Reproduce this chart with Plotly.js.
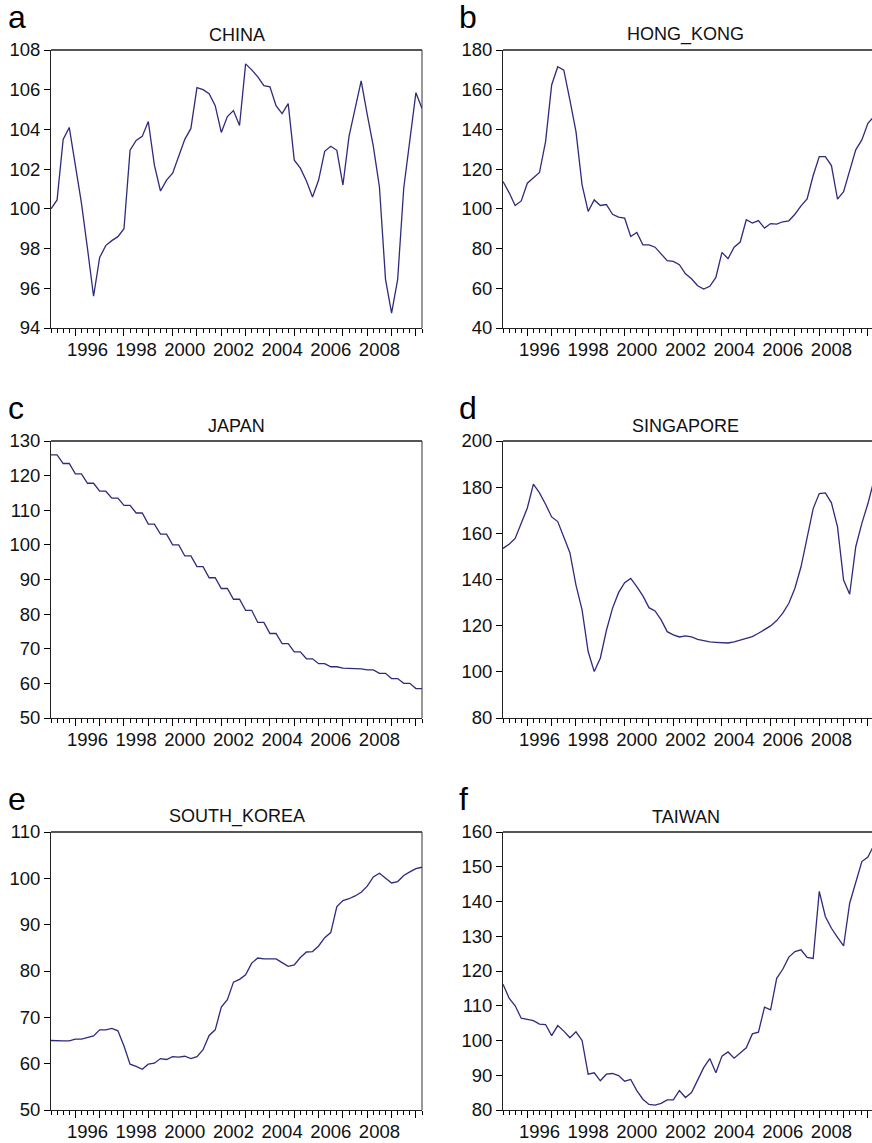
<!DOCTYPE html>
<html>
<head>
<meta charset="utf-8">
<script src="https://cdn.plot.ly/plotly-3.0.1.min.js"></script>
<style>
html,body{margin:0;padding:0;overflow:hidden;background:#fff;}
#chart{width:880px;height:1143px;}
</style>
</head>
<body>
<div id="chart"></div>
<script>
// Quarterly observations, 1995Q1 .. 2010Q2
const startYear = 1995;
const nObs = 62;

const panelLetters = ['a','b','c','d','e','f'];
const panelTitles = ['CHINA','HONG_KONG','JAPAN','SINGAPORE','SOUTH_KOREA','TAIWAN'];

const china = [100.0,100.45,103.5,104.1,102.2,100.3,98.0,95.6,97.55,98.15,98.4,98.6,99.0,102.95,103.45,103.65,
  104.4,102.2,100.9,101.45,101.8,102.6,103.5,104.05,106.1,106.0,105.8,105.2,103.85,104.65,104.95,104.2,
  107.3,107.0,106.65,106.2,106.15,105.2,104.8,105.3,102.45,102.05,101.4,100.6,101.45,102.9,103.15,102.95,
  101.2,103.65,105.0,106.45,104.75,103.15,101.1,96.45,94.75,96.45,101.05,103.5,105.85,105.05];

const hongKong = [113.8,108.2,101.7,104.0,112.9,115.8,118.3,133.9,162.4,171.6,169.9,154.8,138.9,112.1,98.7,104.5,
  101.7,102.2,97.3,95.8,95.3,86.1,88.1,81.9,81.9,80.7,77.4,73.9,73.5,71.9,67.3,64.8,
  61.3,59.6,61.0,65.5,78.1,74.9,80.7,83.3,94.5,92.8,94.1,90.3,92.6,92.3,93.5,94.0,
  97.3,101.5,105.0,116.8,126.3,126.3,121.8,104.9,108.7,119.6,129.7,134.7,143.1,146.5];

const japan = [126.0,126.0,123.5,123.5,120.5,120.5,117.8,117.8,115.5,115.5,113.5,113.5,111.4,111.4,109.2,109.2,
  106.0,106.0,103.1,103.1,100.0,100.0,96.8,96.8,93.7,93.7,90.5,90.5,87.4,87.4,84.3,84.3,
  81.1,81.1,77.6,77.6,74.4,74.4,71.5,71.5,69.1,69.1,67.1,67.1,65.7,65.7,64.8,64.8,
  64.4,64.4,64.2,64.2,63.9,63.9,62.9,62.9,61.4,61.4,60.0,60.0,58.5,58.5];

const singapore = [153.5,155.3,157.8,164.6,171.0,181.3,177.5,172.6,167.1,165.1,158.5,151.6,137.6,126.8,108.8,100.1,
  105.9,117.9,127.5,134.3,138.6,140.5,136.9,132.9,127.8,126.4,122.5,117.4,116.0,115.1,115.6,115.1,
  114.1,113.4,113.0,112.8,112.5,112.5,113.0,113.8,114.6,115.3,116.7,118.2,119.9,122.2,125.4,129.7,
  136.2,145.5,158.8,170.7,177.2,177.5,173.2,162.8,139.8,133.6,154.2,164.3,172.9,183.0];

const southKorea = [65.0,64.9,64.9,64.9,65.3,65.3,65.7,66.0,67.3,67.3,67.6,67.1,63.8,59.9,59.4,58.8,
  59.9,60.1,61.1,60.9,61.5,61.4,61.6,61.1,61.5,63.0,66.1,67.3,72.2,73.8,77.6,78.2,
  79.2,81.7,82.8,82.6,82.6,82.6,81.8,81.0,81.3,82.9,84.1,84.2,85.4,87.2,88.3,93.9,
  95.2,95.6,96.2,97.0,98.3,100.3,101.1,100.1,99.0,99.3,100.6,101.4,102.1,102.4];

const taiwan = [116.2,112.2,110.0,106.4,106.1,105.7,104.7,104.6,101.4,104.3,102.7,100.8,102.5,100.0,90.3,90.7,
  88.4,90.3,90.5,89.9,88.3,88.8,85.6,83.1,81.6,81.4,81.9,82.9,82.9,85.6,83.6,85.0,
  88.6,92.2,94.8,90.7,95.5,96.7,94.9,96.3,97.9,101.9,102.4,109.6,108.8,117.9,120.5,124.0,
  125.6,126.1,123.9,123.6,142.9,135.7,132.3,129.7,127.2,139.5,145.8,151.5,152.8,156.3];

const yRanges = [[94,108],[40,180],[50,130],[80,200],[50,110],[80,160]];
const yDticks = [2,20,10,20,10,10];

const yearTicks = [1996,1997,1998,1999,2000,2001,2002,2003,2004,2005,2006,2007,2008,2009,2010];
const yearLabels = ['1996','1998','2000','2002','2004','2006','2008'];

const seriesList = [china, hongKong, japan, singapore, southKorea, taiwan];

// ---- layout geometry (pixels) ----
const W = 880, H = 1143;
const colX = [[51,422],[503,874]];
const rowY = [[50,328],[441,718],[832,1110]];
const lineColor = '#2e2b7c';
const fontFam = 'Liberation Sans, Arial, Helvetica, sans-serif';
const tickSize = 18.5;
const titleSize = 18;

const xVals = [];
for (let i = 0; i < nObs; i++) xVals.push(startYear + i*0.25);
const xMax = startYear + (nObs-1)*0.25;

const traces = [];
const layout = {
  width: W, height: H,
  margin: {l:0,r:0,t:0,b:0},
  paper_bgcolor: '#fff', plot_bgcolor: '#fff',
  showlegend: false,
  font: {family: fontFam, color: '#111', size: tickSize},
  annotations: [],
  shapes: []
};

for (let p = 0; p < 6; p++) {
  const col = p % 2, row = Math.floor(p/2);
  const n = p + 1;
  const xa = 'xaxis' + (n === 1 ? '' : n);
  const ya = 'yaxis' + (n === 1 ? '' : n);
  const xRef = 'x' + (n === 1 ? '' : n);
  const yRef = 'y' + (n === 1 ? '' : n);
  const labN = n + 6;
  const xaLab = 'xaxis' + labN;
  const xLabRef = 'x' + labN;

  const xd = [colX[col][0]/W, colX[col][1]/W];
  const yd = [(H - rowY[row][1])/H, (H - rowY[row][0])/H];

  traces.push({
    x: xVals, y: seriesList[p], xaxis: xRef, yaxis: yRef,
    type: 'scatter', mode: 'lines',
    line: {color: lineColor, width: 1.3},
    hoverinfo: 'x+y'
  });
  // invisible trace to bind the label axis
  traces.push({
    x: [startYear], y: [yRanges[p][0]], xaxis: xLabRef, yaxis: yRef,
    type: 'scatter', mode: 'markers', marker: {opacity: 0}, hoverinfo: 'skip'
  });

  layout[xa] = {
    domain: xd, anchor: yRef, range: [startYear, xMax],
    tickmode: 'array', tickvals: yearTicks, showticklabels: false,
    ticks: 'outside', ticklen: 7, tickwidth: 1, tickcolor: '#000',
    minor: {tickmode: 'linear', tick0: startYear, dtick: 0.25, ticks: 'outside', ticklen: 4, tickwidth: 1, tickcolor: '#000', showgrid: false},
    showline: true, linecolor: '#222', linewidth: 1, mirror: false,
    showgrid: false, zeroline: false, fixedrange: true
  };
  layout[xaLab] = {
    overlaying: xRef, anchor: yRef, side: 'bottom', range: [startYear, xMax],
    tickmode: 'array', tickvals: yearLabels.map(s => +s + 0.5), ticktext: yearLabels,
    ticks: 'outside', ticklen: 5, tickcolor: 'rgba(0,0,0,0)', showline: false, showgrid: false, zeroline: false,
    tickfont: {size: tickSize, family: fontFam, color: '#111'}, fixedrange: true
  };
  layout[ya] = {
    domain: yd, anchor: xRef, range: yRanges[p], dtick: yDticks[p], tick0: 0,
    ticks: 'outside', ticklen: 6, tickwidth: 1, tickcolor: '#000',
    showline: true, linecolor: '#222', linewidth: 1, mirror: false,
    showgrid: false, zeroline: false, fixedrange: true,
    tickfont: {size: tickSize, family: fontFam, color: '#111'}
  };

  // top and right frame edges (grey, slightly heavier as in the reference)
  layout.shapes.push({type: 'line', xref: 'paper', yref: 'paper', x0: xd[0], x1: xd[1], y0: yd[1], y1: yd[1],
    line: {color: '#555', width: 2}});
  layout.shapes.push({type: 'line', xref: 'paper', yref: 'paper', x0: xd[1], x1: xd[1], y0: yd[0], y1: yd[1],
    line: {color: '#333', width: 1}});

  layout.annotations.push({
    text: panelTitles[p], xref: 'paper', yref: 'paper',
    x: (xd[0] + Math.min(xd[1], 872/W))/2 + (col === 1 ? -2/W : 0), y: yd[1], xanchor: 'center', yanchor: 'bottom', yshift: 3,
    showarrow: false, font: {size: titleSize, family: fontFam, color: '#111'}
  });
  layout.annotations.push({
    text: panelLetters[p], xref: 'paper', yref: 'paper',
    x: (col === 0 ? 6 : 457)/W, y: yd[1], xanchor: 'left', yanchor: 'bottom', yshift: 13,
    showarrow: false, font: {size: 32, family: fontFam, color: '#000'}
  });
}

Plotly.newPlot('chart', traces, layout, {staticPlot: true, displayModeBar: false});
</script>
</body>
</html>
